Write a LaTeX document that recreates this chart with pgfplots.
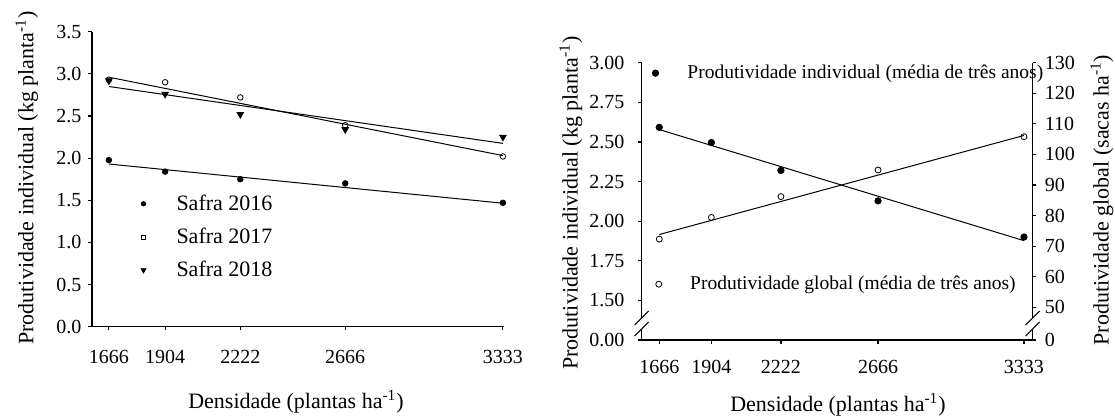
\documentclass[border=0pt]{standalone}
\usepackage{fontspec}
\setmainfont{Liberation Serif}
\usepackage{pgfplots}
\pgfplotsset{compat=1.18}
\begin{document}
\begin{tikzpicture}[font=\fontsize{10}{12}\selectfont]
\useasboundingbox (0,0) rectangle (557.5pt,208.5pt);
\pgfplotsset{
  common/.style={
    scale only axis,
    axis line style={line width=0.65pt},
    tick style={line width=0.6pt,black},
    tick align=outside,
    major tick length=1.8pt,
    /pgf/number format/assume math mode=true,
    clip=false,
    legend cell align=left,
  },
  ln/.style={black,line width=0.5pt,no marks},
}
% ---------------- left chart ----------------
\begin{axis}[common,
  at={(46.05pt,45.15pt)},anchor=south west,
  width=205.75pt,height=147.5pt,
  xmin=1595,xmax=3336,ymin=0,ymax=3.5,
  axis x line*=bottom,axis y line*=left,
  xtick={1666,1904,2222,2666,3333},
  xticklabels={1666,1904,2222,2666,3333},
  ytick={0,0.5,1,1.5,2,2.5,3,3.5},
  yticklabels={0.0,0.5,1.0,1.5,2.0,2.5,3.0,3.5},
  xticklabel style={yshift=-6.5pt},
  legend style={draw=none,fill=none,inner sep=0pt,font=\fontsize{11}{13}\selectfont,
    at={(0.118,0.463)},anchor=north west,row sep=3.35pt,column sep=13.3pt},
]
\addplot[only marks,mark=*,mark size=1.4pt,black,
  legend image code/.code={\draw[mark=*,mark size=1.1pt,black] plot coordinates {(0pt,0pt)};}]
  coordinates {(1666,1.977) (1904,1.84) (2222,1.75) (2666,1.70) (3333,1.47)};
\addlegendentry{Safra 2016}
\addplot[only marks,mark=o,mark size=1.4pt,black,mark options={line width=0.4pt,fill=white},
  legend image code/.code={\draw[mark=square,mark size=1.0pt,black,line width=0.4pt] plot coordinates {(0pt,0pt)};}]
  coordinates {(1666,2.93) (1904,2.90) (2222,2.72) (2666,2.39) (3333,2.02)};
\addlegendentry{Safra 2017}
\addplot[only marks,mark=triangle*,mark size=1.9pt,black,mark options={rotate=180},
  legend image code/.code={\draw[mark=triangle*,mark size=1.4pt,black,mark options={rotate=180}] plot coordinates {(0pt,0pt)};}]
  coordinates {(1666,2.92) (1904,2.76) (2222,2.52) (2666,2.34) (3333,2.25)};
\addlegendentry{Safra 2018}
\addplot[ln,forget plot] coordinates {(1666,1.93) (3333,1.465)};
\addplot[ln,forget plot] coordinates {(1666,2.96) (3333,2.03)};
\addplot[ln,forget plot] coordinates {(1666,2.85) (3333,2.175)};
\end{axis}
% ---------------- right chart, left axis ----------------
\begin{axis}[common,
  at={(320.85pt,38.5pt)},anchor=south west,
  width=195.5pt,height=138.65pt,
  xmin=1585.6,xmax=3373,ymin=1.25,ymax=3.0,
  axis x line*=bottom,axis y line*=left,
  xtick={1666,1904,2222,2666,3333},
  xticklabels={1666,1904,2222,2666,3333},
  ytick={1.25,1.5,1.75,2,2.25,2.5,2.75,3},
  yticklabels={0.00,1.50,1.75,2.00,2.25,2.50,2.75,3.00},
  xticklabel style={yshift=-4.9pt},
  yticklabel style={xshift=-3.3pt},
  legend style={draw=none,fill=none,inner sep=0pt,nodes={inner xsep=1pt},
    font=\fontsize{9.75}{12}\selectfont,
    at={(0.026,1.008)},anchor=north west,column sep=13.4pt},
]
\addplot[only marks,mark=*,mark size=1.6pt,black,
  legend image code/.code={\draw[mark=*,mark size=1.6pt,black] plot coordinates {(0pt,0pt)};}]
  coordinates {(1666,2.592) (1904,2.496) (2222,2.32) (2666,2.128) (3333,1.90)};
\addlegendentry{Produtividade individual (média de três anos)}
\addplot[ln,forget plot] coordinates {(1666,2.578) (3333,1.877)};
\end{axis}
% ---------------- right chart, right axis ----------------
\begin{axis}[common,
  at={(320.85pt,38.5pt)},anchor=south west,
  width=195.5pt,height=138.65pt,
  xmin=1585.6,xmax=3373,ymin=39.3,ymax=130,
  axis x line=none,axis y line*=right,
  ytick={39.3,50,60,70,80,90,100,110,120,130},
  yticklabels={0,50,60,70,80,90,100,110,120,130},
  yticklabel style={xshift=0.7pt},
  legend style={draw=none,fill=none,inner sep=0pt,nodes={inner xsep=1pt},
    font=\fontsize{9.75}{12}\selectfont,
    at={(0.035,0.247)},anchor=north west,column sep=13.2pt},
]
\addplot[only marks,mark=o,mark size=1.5pt,black,mark options={line width=0.4pt,fill=white},
  legend image code/.code={\draw[mark=o,mark size=1.5pt,black,line width=0.4pt] plot coordinates {(0pt,0pt)};}]
  coordinates {(1666,72.3) (1904,79.4) (2222,86.2) (2666,94.9) (3333,105.8)};
\addlegendentry{Produtividade global (média de três anos)}
\addplot[ln,forget plot] coordinates {(1666,73.8) (3333,106.2)};
\end{axis}
% axis breaks
\foreach \bx in {320.85pt,516.35pt}{
  \fill[white] ([xshift=-3.5pt]\bx,46pt) -- ([xshift=3.5pt]\bx,53pt) -- ([xshift=3.5pt]\bx,47.5pt) -- ([xshift=-3.5pt]\bx,40.5pt) -- cycle;
  \draw[line width=0.5pt] ([xshift=-3.5pt]\bx,46pt) -- ([xshift=3.5pt]\bx,53pt);
  \draw[line width=0.5pt] ([xshift=-3.5pt]\bx,40.5pt) -- ([xshift=3.5pt]\bx,47.5pt);
}
% axis titles
\begin{scope}[font=\fontsize{11}{13}\selectfont]
\node[rotate=90] at (13.4pt,119.5pt) {Produtividade individual (kg planta\textsuperscript{-1})};
\node at (148pt,7.65pt) {Densidade (plantas ha\textsuperscript{-1})};
\node[rotate=90] at (285.5pt,107pt) {Produtividade individual (kg planta\textsuperscript{-1})};
\node[rotate=90] at (551pt,108.5pt) {Produtividade global (sacas ha\textsuperscript{-1})};
\node at (419pt,6pt) {Densidade (plantas ha\textsuperscript{-1})};
\end{scope}
\end{tikzpicture}
\end{document}
